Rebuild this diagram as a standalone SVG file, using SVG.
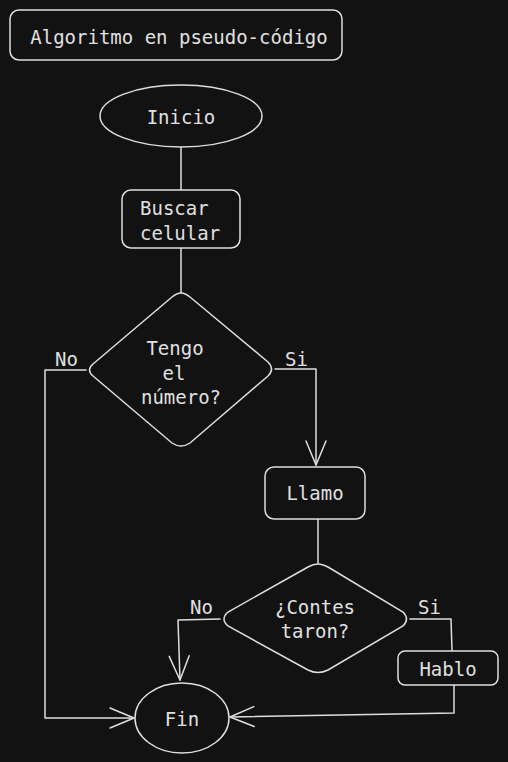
<svg xmlns="http://www.w3.org/2000/svg" width="508" height="762" viewBox="0 0 508 762">
<style>
.s{fill:none;stroke:#dedede;stroke-width:1.5;stroke-linejoin:round;stroke-linecap:round}
.n{fill:#121212;stroke:#dedede;stroke-width:1.5}
.t{font-family:"DejaVu Sans Mono","Liberation Mono",monospace;font-size:19px;fill:#e0e0e0}
.m{text-anchor:middle}
</style>
<defs>
<marker id="ah" markerUnits="userSpaceOnUse" viewBox="-2 -2 28 24" refX="24" refY="10" markerWidth="28" markerHeight="24" orient="auto">
<path d="M0,0 L24,10 L0,20" fill="none" stroke="#dedede" stroke-width="1.5" stroke-linecap="round" stroke-linejoin="round"/>
</marker>
</defs>
<rect width="508" height="762" fill="#121212"/>
<g id="connectors">
<path class="s" d="M181,147 L181,190"/>
<path class="s" d="M181,248 L181,293"/>
<path class="s" d="M86,370 L45,370 L45,718 L134,718" marker-end="url(#ah)"/>
<path class="s" d="M275,369 L316,369 L316,465" marker-end="url(#ah)"/>
<path class="s" d="M318,519 L318,564"/>
<path class="s" d="M220,619 L178,620 L180,680" marker-end="url(#ah)"/>
<path class="s" d="M410,619 L451,619 L452,651"/>
<path class="s" d="M454,685 L454,713 L230,717" marker-end="url(#ah)"/>
<text class="t" x="55" y="366">No</text>
<text class="t" x="285" y="366">Si</text>
<text class="t" x="190" y="614">No</text>
<text class="t" x="418" y="614">Si</text>
</g>
<g id="title">
<rect class="n" x="10" y="10" width="332" height="50" rx="9"/>
<text class="t m" x="179" y="44">Algoritmo en pseudo-código</text>
</g>
<g id="inicio">
<ellipse class="n" cx="181" cy="116" rx="81" ry="31"/>
<text class="t m" x="181" y="124">Inicio</text>
</g>
<g id="buscar">
<rect class="n" x="122" y="190" width="118" height="58" rx="9"/>
<text class="t" x="140" y="215">Buscar</text>
<text class="t" x="140" y="240">celular</text>
</g>
<g id="tengo">
<path class="n" d="M181,293 Q185,293 190,297 L268,362 Q275,369 268,376 L190,443 Q181,449 172,443 L93,376 Q86,370 93,364 L172,297 Q177,293 181,293 Z"/>
<text class="t m" x="175" y="355">Tengo</text>
<text class="t m" x="174" y="380">el</text>
<text class="t m" x="181" y="404">número?</text>
</g>
<g id="llamo">
<rect class="n" x="265" y="467" width="100" height="52" rx="9"/>
<text class="t m" x="315" y="500">Llamo</text>
</g>
<g id="contestaron">
<path class="n" d="M318,564 Q322,564 328,567 L403,612 Q410,619 403,626 L328,670 Q318,675 308,670 L228,626 Q220,619 228,612 L308,567 Q313,564 318,564 Z"/>
<text class="t m" x="315" y="614">¿Contes</text>
<text class="t m" x="315" y="638">taron?</text>
</g>
<g id="hablo">
<rect class="n" x="398" y="651" width="100" height="34" rx="7"/>
<text class="t m" x="448" y="676">Hablo</text>
</g>
<g id="fin">
<ellipse class="n" cx="182" cy="718" rx="47" ry="35"/>
<text class="t m" x="182" y="726">Fin</text>
</g>
</svg>
